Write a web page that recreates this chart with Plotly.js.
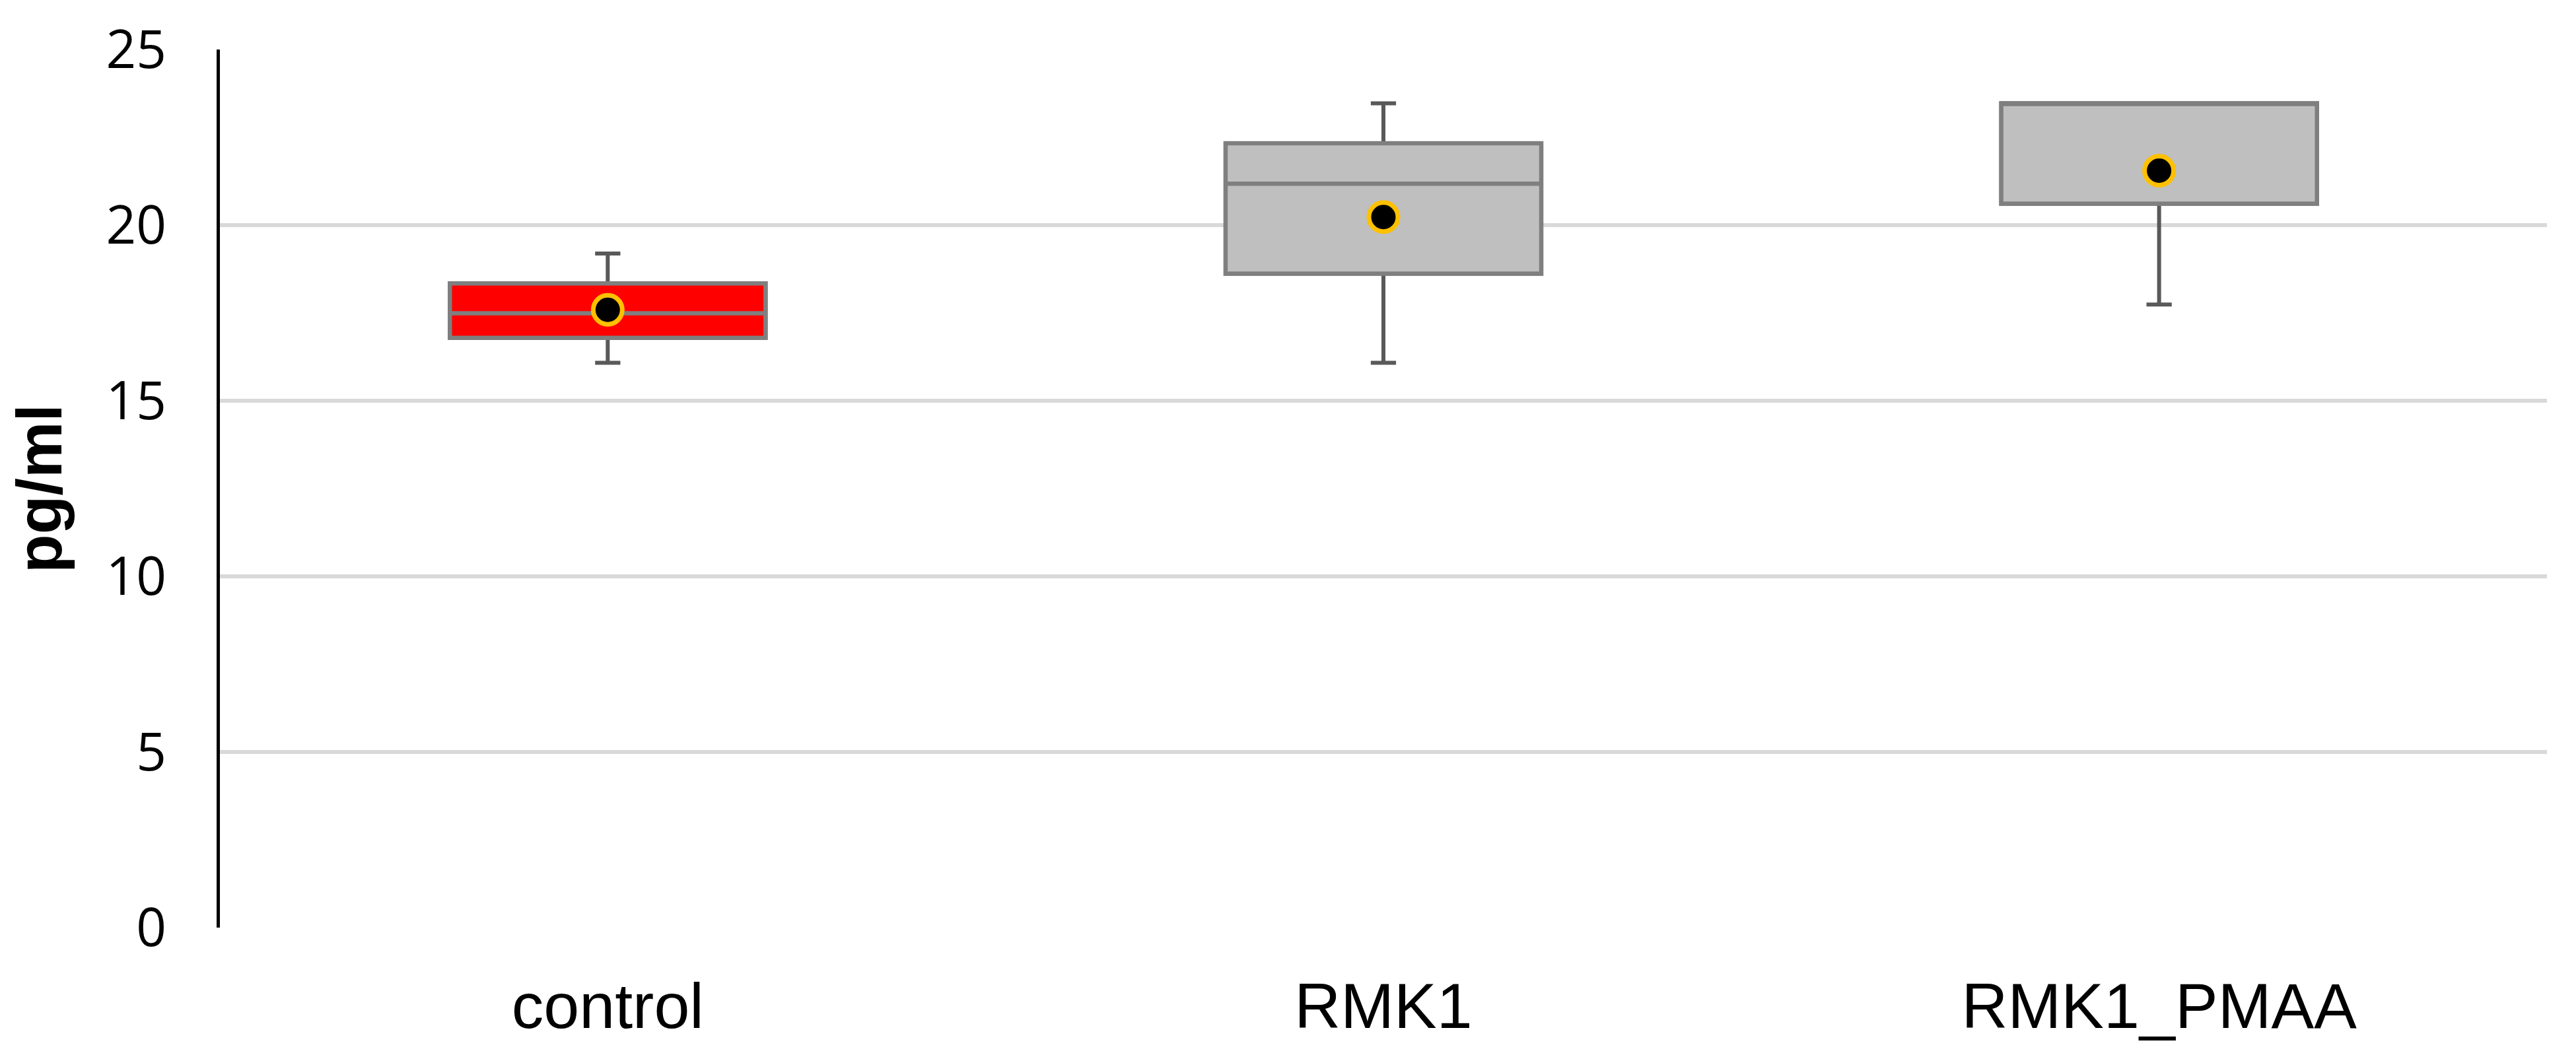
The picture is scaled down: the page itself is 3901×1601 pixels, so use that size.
<!DOCTYPE html>
<html>
<head>
<meta charset="utf-8">
<script src="https://cdn.plot.ly/plotly-3.0.1.min.js"></script>
<style>
  html, body { margin: 0; padding: 0; background: #fff; }
  #chart { width: 3901px; height: 1601px; }
</style>
</head>
<body>
<div id="chart"></div>
<script>
// values
var groups = ["control", "RMK1", "RMK1_PMAA"];
var minVals = [16.08, 16.08, 17.74];
var q1Vals = [16.79, 18.62, 20.61];
var medianVals = [17.49, 21.18, 23.47];
var q3Vals = [18.34, 22.33, 23.47];
var maxVals = [19.19, 23.47, 23.47];
var meanVals = [17.59, 20.23, 21.55];
var fillColors = ["#FF0000", "#BFBFBF", "#BFBFBF"];

var traces = [];
groups.forEach(function(g, i) {
    // whiskers (darker grey)
    traces.push({
        type: 'box',
        x: [g],
        q1: [q1Vals[i]], median: [medianVals[i]], q3: [q3Vals[i]],
        lowerfence: [minVals[i]], upperfence: [maxVals[i]],
        width: 0.407,
        whiskerwidth: 0.08,
        fillcolor: fillColors[i],
        line: {color: '#595959', width: 6},
        boxpoints: false,
        hoverinfo: 'skip',
        showlegend: false
    });
    // box outline (lighter grey) drawn on top
    traces.push({
        type: 'box',
        x: [g],
        q1: [q1Vals[i]], median: [medianVals[i]], q3: [q3Vals[i]],
        lowerfence: [q1Vals[i]], upperfence: [q3Vals[i]],
        width: 0.407,
        whiskerwidth: 0,
        fillcolor: fillColors[i],
        line: {color: '#7F7F7F', width: 6.5},
        boxpoints: false,
        hoverinfo: 'skip',
        showlegend: false
    });
});

// means
traces.push({
    type: 'scatter',
    mode: 'markers',
    x: groups,
    y: meanVals,
    marker: {color: '#000000', size: 44, line: {color: '#FFC000', width: 7}},
    showlegend: false
});

var layout = {
    width: 3901,
    height: 1601,
    margin: {l: 333, r: 44, t: 75, b: 196},
    paper_bgcolor: '#ffffff',
    plot_bgcolor: '#ffffff',
    boxmode: 'overlay',
    showlegend: false,
    xaxis: {
        type: 'category',
        categoryorder: 'array',
        categoryarray: groups,
        range: [-0.5, 2.5],
        showgrid: false,
        showline: false,
        zeroline: false,
        ticks: '',
        ticklabelstandoff: 54,
        tickfont: {family: 'Liberation Sans, Arial, sans-serif', size: 97, color: '#000000'}
    },
    yaxis: {
        range: [0, 25],
        dtick: 5,
        tick0: 0,
        showgrid: true,
        gridcolor: '#D9D9D9',
        gridwidth: 6,
        zeroline: false,
        showline: true,
        linecolor: '#000000',
        linewidth: 5,
        ticks: '',
        ticklabelstandoff: 60,
        tickfont: {family: 'Open Sans, sans-serif', size: 80, color: '#000000'},
        title: {
            text: '<b>pg/ml</b>',
            standoff: 36,
            font: {family: 'Liberation Sans, Arial, sans-serif', size: 96, color: '#000000'}
        }
    }
};

Plotly.newPlot('chart', traces, layout, {staticPlot: true});
</script>
</body>
</html>
